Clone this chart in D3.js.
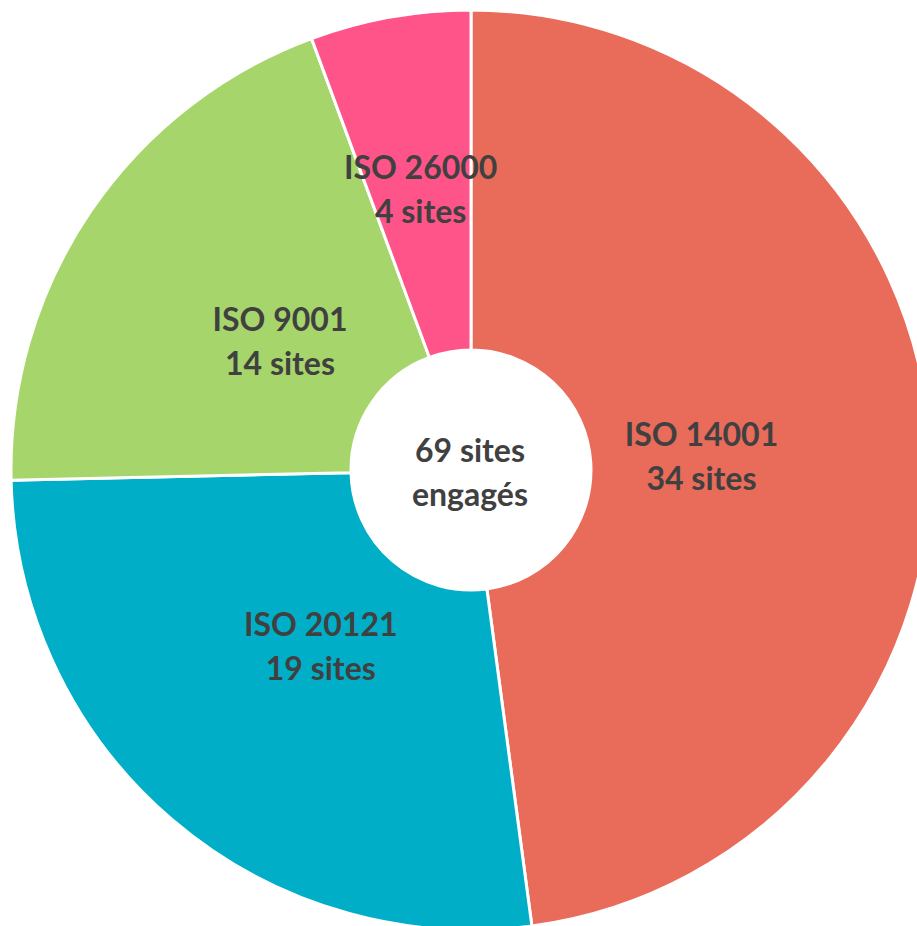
<!DOCTYPE html>
<html><head><meta charset="utf-8">
<script src="https://cdn.jsdelivr.net/npm/d3@7"></script>
<style>html,body{margin:0;padding:0;background:#fff;}svg{display:block;}</style>
</head><body>
<svg id="chart" width="917" height="926"></svg>
<script>
const categories = ["ISO 14001", "ISO 20121", "ISO 9001", "ISO 26000"];
const values = [34, 19, 14, 4];
const valueLabels = ["34 sites", "19 sites", "14 sites", "4 sites"];
const colors = ["#E96B5A", "#00AFC7", "#A6D66B", "#FF5489"];
const centerLines = ["69 sites", "engagés"];

const W = 917, H = 926;
const cx = 471, cy = 470, R = 460, r0 = 120;
const svg = d3.select("#chart");
const g = svg.append("g").attr("transform", `translate(${cx},${cy})`);

const data = categories.map((c, i) => ({cat: c, value: values[i], lab: valueLabels[i], color: colors[i]}));
const pie = d3.pie().value(d => d.value).sort(null);
const arcs = pie(data);
const arc = d3.arc().innerRadius(r0).outerRadius(R);

g.selectAll("path").data(arcs).join("path")
  .attr("d", arc)
  .attr("fill", d => d.data.color)
  .attr("stroke", "#fff")
  .attr("stroke-width", 3);

const labelR = [231, 231, 231, 286];
const font = "Lato, 'Open Sans', sans-serif";
const fs = 32;
arcs.forEach((a, i) => {
  const c = d3.arc().innerRadius(labelR[i]).outerRadius(labelR[i]).centroid(a);
  const t = g.append("text")
    .attr("text-anchor", "middle")
    .attr("font-family", font).attr("font-weight", "bold")
    .attr("font-size", fs).attr("fill", "#404040");
  t.append("tspan").attr("x", c[0]).attr("y", c[1] - 9).text(a.data.cat);
  t.append("tspan").attr("x", c[0]).attr("y", c[1] + 35).text(a.data.lab);
});

const ct = g.append("text").attr("text-anchor", "middle")
  .attr("font-family", font).attr("font-weight", "bold")
  .attr("font-size", fs).attr("fill", "#404040");
ct.append("tspan").attr("x", -1).attr("y", -8).text(centerLines[0]);
ct.append("tspan").attr("x", -1).attr("y", 36).text(centerLines[1]);
</script>
</body></html>
